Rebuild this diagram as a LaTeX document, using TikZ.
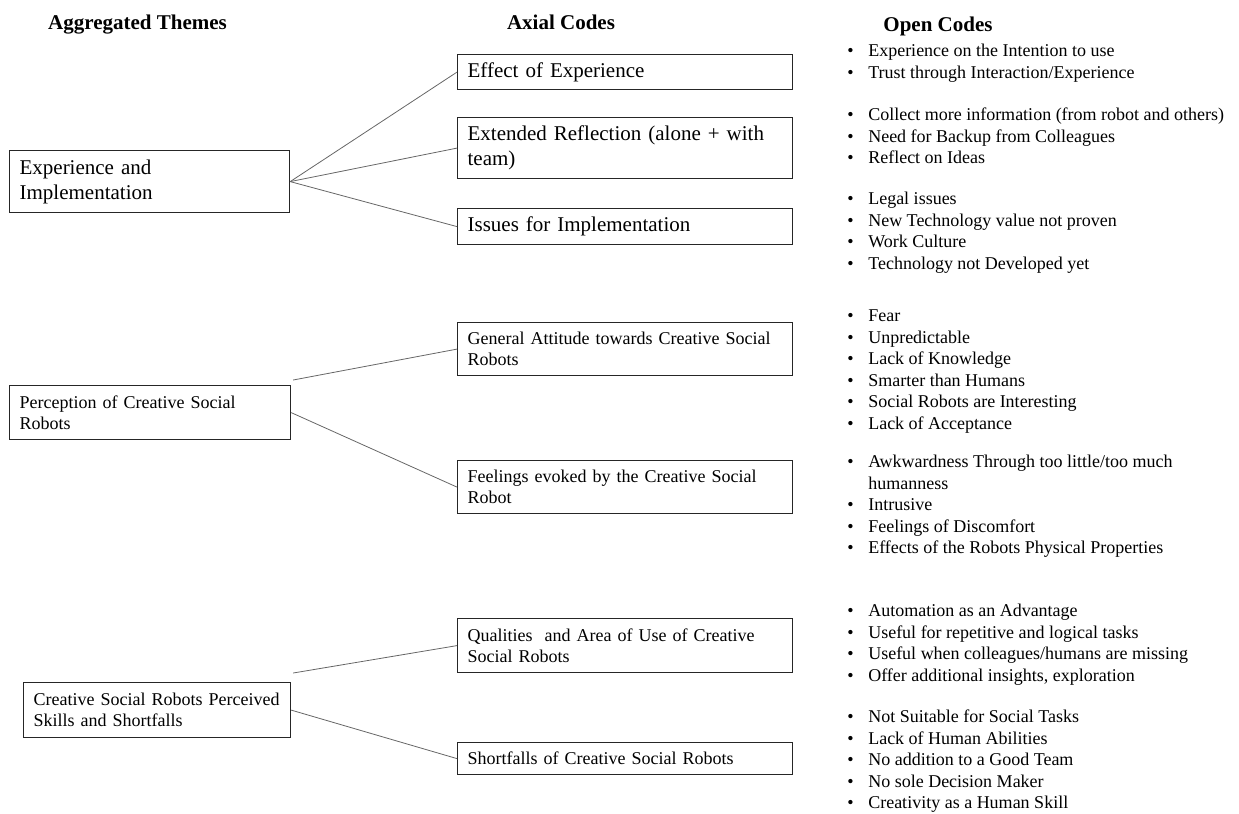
\documentclass[tikz,border=0pt]{standalone}
\usepackage{fontspec}
\setmainfont{Liberation Serif}

% bullet and hanging indent for the open codes
\newcommand{\itm}{\strut\makebox[15.75pt][l]{\textbullet}}
\newcommand{\hng}{\strut\hspace*{15.75pt}}

\begin{document}
\begin{tikzpicture}[x=0.75pt,y=-0.75pt,
  head/.style={anchor=base, font=\fontsize{15.75}{18}\selectfont\bfseries},
  bigbox/.style={draw=black!85, line width=0.9pt, anchor=north west, align=left, inner xsep=7.5pt, inner ysep=1pt, font=\fontsize{15.75}{18.75}\selectfont},
  smallbox/.style={draw=black!85, line width=0.9pt, anchor=north west, align=left, inner xsep=7.5pt, inner ysep=1pt, font=\fontsize{13.5}{16}\selectfont},
  axial/.style={text width=236.25pt},
  codes/.style={anchor=north west, align=left, inner sep=0pt, font=\fontsize{13.5}{16.1}\selectfont},
  link/.style={draw=black!60, line width=0.6pt}]
\useasboundingbox (0,0) rectangle (1239,814);

\node[head] (hthemes) at (137.5,29) {Aggregated Themes};
\node[head] (haxial) at (561,29) {Axial Codes};
\node[head] (hopen) at (938,31) {Open Codes};

%% themes
\node[bigbox, text width=195pt, minimum height=46.5pt] (theme1) at (9,150) {Experience and\\Implementation};
\node[smallbox, text width=195.75pt, minimum height=40.5pt] (theme2) at (9,385) {Perception of Creative Social\\Robots};
\node[smallbox, text width=185.25pt, minimum height=41.25pt] (theme3) at (23,682) {Creative Social Robots Perceived\\Skills and Shortfalls};

%% axial codes
\node[bigbox, axial, minimum height=26.25pt] (ax1) at (457,54) {Effect of Experience};
\node[bigbox, axial, minimum height=45.75pt] (ax2) at (457,117) {Extended Reflection (alone + with\\team)};
\node[bigbox, axial, minimum height=27pt] (ax3) at (457,208) {Issues for Implementation};

\node[smallbox, axial, minimum height=39.75pt] (ax4) at (457,322) {General Attitude towards Creative Social\\Robots};
\node[smallbox, axial, minimum height=39.75pt] (ax5) at (457,460) {Feelings evoked by the Creative Social\\Robot};

\node[smallbox, axial, minimum height=40.5pt] (ax6) at (457,618) {Qualities~ and Area of Use of Creative\\Social Robots};
\node[smallbox, axial, minimum height=24pt] (ax7) at (457,742) {Shortfalls of Creative Social Robots};

%% connectors
\coordinate (p2) at ([shift={(2,-5)}]theme2.north east);
\coordinate (p3) at ([shift={(2,-9)}]theme3.north east);

\draw[link] (theme1.east) -- (ax1.west);
\draw[link] (theme1.east) -- (ax2.west);
\draw[link] (theme1.east) -- (ax3.west);
\draw[link] (p2) -- (ax4.west);
\draw[link] (theme2.east) -- (ax5.west);
\draw[link] (p3) -- (ax6.west);
\draw[link] (theme3.east) -- (ax7.west);

%% open codes
\node[codes] (oc1) at (847,41.4) {\itm Experience on the Intention to use\\\itm Trust through Interaction/Experience};
\node[codes] (oc2) at (847,105.4) {\itm Collect more information (from robot and others)\\\itm Need for Backup from Colleagues\\\itm Reflect on Ideas};
\node[codes] (oc3) at (847,189.4) {\itm Legal issues\\\itm New Technology value not proven\\\itm Work Culture\\\itm Technology not Developed yet};
\node[codes] (oc4) at (847,306.4) {\itm Fear\\\itm Unpredictable\\\itm Lack of Knowledge\\\itm Smarter than Humans\\\itm Social Robots are Interesting\\\itm Lack of Acceptance};
\node[codes] (oc5) at (847,452.4) {\itm Awkwardness Through too little/too much\\\hng humanness\\\itm Intrusive\\\itm Feelings of Discomfort\\\itm Effects of the Robots Physical Properties};
\node[codes] (oc6) at (847,601.4) {\itm Automation as an Advantage\\\itm Useful for repetitive and logical tasks\\\itm Useful when colleagues/humans are missing\\\itm Offer additional insights, exploration};
\node[codes] (oc7) at (847,707.4) {\itm Not Suitable for Social Tasks\\\itm Lack of Human Abilities\\\itm No addition to a Good Team\\\itm No sole Decision Maker\\\itm Creativity as a Human Skill};
\end{tikzpicture}
\end{document}
